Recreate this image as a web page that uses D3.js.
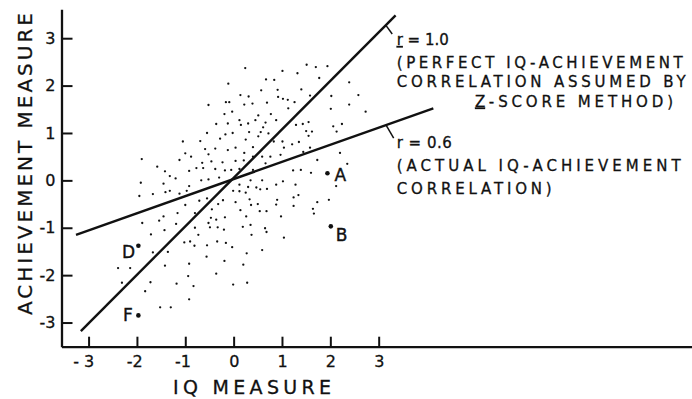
<!DOCTYPE html>
<html><head><meta charset="utf-8">
<script src="https://cdn.jsdelivr.net/npm/d3@7"></script>
<style>
html,body{margin:0;padding:0;background:#fff;}
svg{display:block;}
text{font-family:"DejaVu Sans",sans-serif;fill:#111;}
</style>
</head><body>
<svg id="chart" width="692" height="399"></svg>
<script>
// ---------------- DATA ----------------
const xTicks = [-3, -2, -1, 0, 1, 2, 3];
const xTickLabels = ["- 3", "-2", "-1", "0", "1", "2", "3"];
const yTicks = [-3, -2, -1, 0, 1, 2, 3];
const yTickLabels = ["-3", "-2", "-1", "0", "1", "2", "3"];
const xTitle = "IQ MEASURE";
const yTitle = "ACHIEVEMENT MEASURE";

// scatter of students: [IQ z-score, achievement z-score]
const students = [
[-1.05,0.82],[-1.00,0.57],[-1.90,0.45],[-1.12,0.43],[-1.58,0.29],[-1.42,0.19],
[0.24,2.37],[1.01,2.31],[0.67,2.13],[0.84,2.12],[-0.11,2.04],[0.57,1.90],[0.91,1.91],
[0.14,1.80],[0.31,1.77],[0.92,1.76],[1.02,1.72],[1.12,1.70],[-0.16,1.65],[-0.09,1.65],
[0.22,1.60],[0.39,1.62],[0.69,1.64],[-0.52,1.59],[1.13,1.52],[-0.19,1.40],[-0.03,1.45],
[0.77,1.40],[0.51,1.37],[0.12,1.27],[0.45,1.27],[0.88,1.27],[-0.36,1.19],[-0.12,1.20],
[0.15,1.17],[0.30,1.20],[0.66,1.22],[0.61,1.12],[-0.55,1.00],[-0.17,0.97],[-0.02,1.00],
[0.32,1.02],[0.56,1.02],[0.72,0.99],[0.51,0.93],[-0.28,0.88],[0.25,0.86],[0.83,0.82],
[-0.69,0.83],[1.01,0.82],[1.21,0.76],[0.40,0.70],[-0.59,0.66],[-0.38,0.67],[-0.12,0.64],
[0.04,0.69],[1.04,0.69],[-0.52,0.55],[0.22,0.58],[0.97,0.54],[-0.88,0.50],[0.04,0.41],
[0.21,0.42],[0.59,0.50],[0.76,0.50],[0.40,0.50],[-0.65,0.37],[-0.46,0.40],[-0.23,0.38],
[0.66,0.36],[-0.77,0.26],[-0.92,0.20],[-0.63,0.26],[-0.38,0.24],[-0.18,0.21],[-0.05,0.22],
[0.12,0.24],[0.40,0.22],[1.23,0.21],
[1.51,2.44],[1.70,2.39],[1.94,2.41],[1.32,2.26],[1.77,2.16],[2.39,2.07],[1.40,1.92],
[1.58,1.79],[2.02,1.78],[2.58,1.80],[1.26,1.65],[2.01,1.51],[2.39,1.60],[2.73,1.45],
[1.43,1.19],[1.55,1.23],[1.29,1.17],[2.06,1.14],[2.24,1.19],[1.50,1.04],[1.62,1.03],
[2.13,1.03],[1.55,0.94],[1.35,0.81],[1.58,0.69],[1.44,0.60],[2.20,0.58],[1.73,0.43],
[2.35,0.35],[1.39,0.22],[1.60,0.16],
[-1.92,-0.05],[-1.45,-0.07],[-1.32,0.09],[-1.20,0.04],[-1.95,-0.33],[-1.67,-0.29],
[-1.41,-0.25],[-1.32,-0.22],[-1.12,-0.28],[-0.97,-0.22],[-1.00,-0.52],[-1.89,-0.90],
[-1.54,-0.85],[-1.45,-0.76],[-1.16,-0.69],[-1.71,-1.14],[-1.43,-1.05],[-1.19,-0.92],
[-1.02,-1.31],[-1.67,-1.52],[-1.36,-1.51],[-2.39,-1.85],[-2.14,-1.85],[-1.42,-1.80],
[-2.31,-2.16],[-1.72,-2.15],[-1.18,-2.18],[-1.83,-2.34],[-1.52,-2.68],[-1.30,-2.68],
[-0.67,0.00],[-0.52,0.02],[-0.30,0.06],[-0.92,-0.12],[0.35,0.00],[0.59,0.00],[1.02,-0.02],
[0.88,-0.09],[0.12,-0.09],[0.30,-0.14],[0.47,-0.15],[0.55,-0.19],[0.69,-0.18],[-0.01,-0.22],
[0.12,-0.23],[0.25,-0.26],[-0.55,-0.38],[-0.71,-0.43],[-0.22,-0.42],[0.04,-0.46],[0.33,-0.40],
[0.90,-0.41],[-0.32,-0.50],[0.36,-0.52],[0.50,-0.50],[0.88,-0.51],[1.24,-0.36],[1.24,-0.54],
[-0.45,-0.61],[0.14,-0.63],[0.54,-0.65],[0.68,-0.65],[-0.80,-0.69],[-0.47,-0.79],[-0.36,-0.83],
[-0.18,-0.78],[0.26,-0.76],[0.98,-0.76],[-0.52,-0.90],[-0.49,-0.99],[-0.33,-0.99],[-0.80,-1.00],
[-0.20,-1.04],[0.19,-0.98],[0.35,-0.94],[0.65,-1.01],[0.68,-1.09],[-0.73,-1.15],[0.37,-1.15],
[1.04,-1.21],[-0.90,-1.29],[-0.81,-1.38],[-0.55,-1.37],[-0.34,-1.29],[-0.16,-1.32],[-0.03,-1.41],
[0.59,-1.47],[0.27,-1.54],[-0.56,-1.61],[-0.19,-1.70],[-0.92,-1.76],[0.20,-1.78],[-0.36,-1.97],
[-0.94,-2.02],[-0.83,-2.23],[-0.01,-2.20],[0.28,-2.16],[-0.92,-2.51],
[1.28,-0.09],[1.34,-0.31],[2.12,-0.12],[1.73,-0.46],[1.97,-0.41],[1.64,-0.60],[1.66,-0.70]
];

// labelled students
const pointNames = ["A", "B", "D", "F"];
const pointX = [1.94, 2.01, -1.97, -1.97];
const pointY = [0.15, -0.97, -1.38, -2.85];

// correlation lines (end points in z-score units)
const perfectLine = [[-3.16, -3.18], [3.35, 3.48]];
const actualLine = [[-3.26, -1.15], [4.13, 1.52]];
const perfectLeader = [[3.15, 3.27], [3.28, 3.09]];
const actualLeader = [[3.15, 1.17], [3.31, 0.89]];

const perfectNote = ["r = 1.0", "(PERFECT IQ-ACHIEVEMENT", "CORRELATION ASSUMED BY", "Z-SCORE METHOD)"];
const actualNote = ["r = 0.6", "(ACTUAL IQ-ACHIEVEMENT", "CORRELATION)"];

// ---------------- LAYOUT / STYLE ----------------
const svg = d3.select("#chart");
const x = d3.scaleLinear().domain([-3.56, 9.48]).range([61.5, 692]);
const y = d3.scaleLinear().domain([-3.51, 3.61]).range([346.7, 9.3]);
const ink = "#111";

svg.append("rect").attr("width", 692).attr("height", 399).attr("fill", "#fff");

// axes
const gx = svg.append("g")
  .attr("transform", `translate(0,${y.range()[0]})`)
  .call(d3.axisBottom(x).tickValues(xTicks).tickFormat((d, i) => xTickLabels[i])
    .tickSizeInner(-10).tickSizeOuter(0).tickPadding(9));
gx.select(".domain").attr("stroke", ink).attr("stroke-width", 2.3);
gx.selectAll(".tick line").attr("stroke", ink).attr("stroke-width", 2);
gx.selectAll(".tick text").attr("font-size", 16).attr("font-family", "DejaVu Sans")
  .attr("text-anchor", "end").attr("dx", 5.2).attr("fill", ink)
  .attr("stroke", ink).attr("stroke-width", 0.3);

const gy = svg.append("g")
  .attr("transform", `translate(${x.range()[0]},0)`)
  .call(d3.axisLeft(y).tickValues(yTicks).tickFormat((d, i) => yTickLabels[i])
    .tickSizeInner(-11).tickSizeOuter(0).tickPadding(6));
gy.select(".domain").attr("stroke", ink).attr("stroke-width", 2.3);
gy.selectAll(".tick line").attr("stroke", ink).attr("stroke-width", 2);
gy.selectAll(".tick text").attr("font-size", 16).attr("font-family", "DejaVu Sans").attr("fill", ink)
  .attr("stroke", ink).attr("stroke-width", 0.3);

// axis titles
svg.append("text").attr("x", 252).attr("y", 394).attr("text-anchor", "middle")
  .attr("font-size", 19).attr("textLength", 158).attr("lengthAdjust", "spacing")
  .attr("stroke", ink).attr("stroke-width", 0.3).text(xTitle);
svg.append("text").attr("transform", "translate(31.5,164) rotate(-90)").attr("text-anchor", "middle")
  .attr("font-size", 20).attr("textLength", 302).attr("lengthAdjust", "spacing")
  .attr("stroke", ink).attr("stroke-width", 0.3).text(yTitle);

// scatter
svg.append("g").selectAll("circle").data(students).join("circle")
  .attr("cx", d => x(d[0])).attr("cy", d => y(d[1])).attr("r", 1.15).attr("fill", ink);

// lines
const lineGen = d3.line().x(d => x(d[0])).y(d => y(d[1]));
[perfectLine, actualLine].forEach(l =>
  svg.append("path").attr("d", lineGen(l)).attr("stroke", ink).attr("stroke-width", 2.4)
    .attr("fill", "none").attr("stroke-linecap", "butt"));
[perfectLeader, actualLeader].forEach(l =>
  svg.append("path").attr("d", lineGen(l)).attr("stroke", ink).attr("stroke-width", 1.5).attr("fill", "none"));

// labelled points
const labelOffsets = [[7, 8], [5, 15], [-16.5, 12], [-15.5, 6]];
pointNames.forEach((n, i) => {
  svg.append("circle").attr("cx", x(pointX[i])).attr("cy", y(pointY[i])).attr("r", 2.3).attr("fill", ink);
  svg.append("text").attr("x", x(pointX[i]) + labelOffsets[i][0]).attr("y", y(pointY[i]) + labelOffsets[i][1])
    .attr("font-size", 17).attr("stroke", ink).attr("stroke-width", 0.4).text(n);
});

// annotations
function note(lines, xs, ys, widths, underlineFirst) {
  lines.forEach((t, i) => {
    const te = svg.append("text").attr("x", xs[i]).attr("y", ys[i]).attr("font-size", 15)
      .attr("textLength", widths[i]).attr("lengthAdjust", "spacing")
      .attr("stroke", ink).attr("stroke-width", 0.3);
    if (underlineFirst[i]) {
      te.append("tspan").style("text-decoration", "underline").text(t.slice(0, 1));
      te.append("tspan").text(t.slice(1));
    } else te.text(t);
  });
}
note(perfectNote, [396.7, 396.7, 396.7, 475], [45, 67.5, 87.3, 106.5], [52, 286, 289, 198], [true, false, false, true]);
note(actualNote, [396.7, 396.7, 396.7], [148, 170.5, 194], [55, 284, 155], [false, false, false]);
</script>
</body></html>
